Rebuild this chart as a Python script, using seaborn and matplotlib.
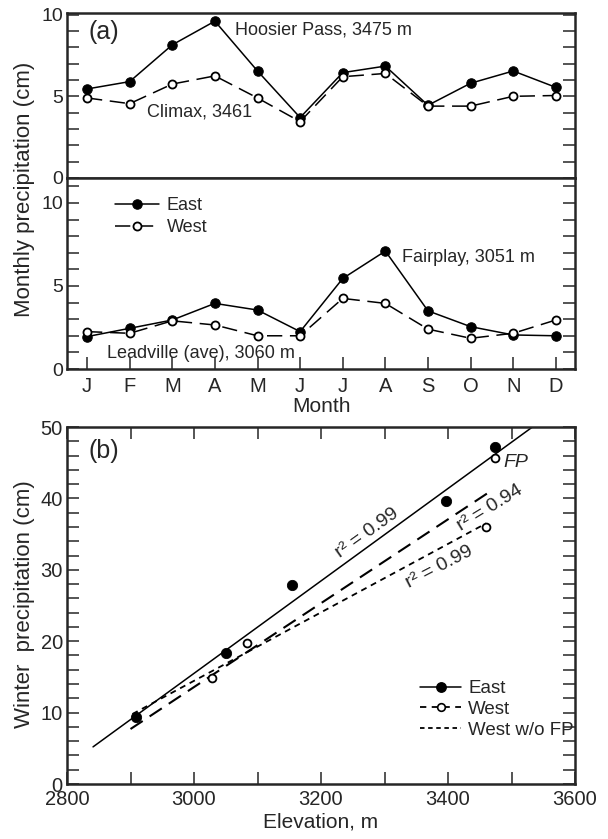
import numpy as np
import pandas as pd
import seaborn as sns
import matplotlib.pyplot as plt
from matplotlib.lines import Line2D
from matplotlib.ticker import MultipleLocator

months = ['J', 'F', 'M', 'A', 'M', 'J', 'J', 'A', 'S', 'O', 'N', 'D']
hoosier = [5.45, 5.9, 8.15, 9.6, 6.55, 3.7, 6.45, 6.85, 4.45, 5.8, 6.55, 5.55]
climax = [4.9, 4.55, 5.75, 6.25, 4.9, 3.45, 6.2, 6.4, 4.4, 4.4, 5.0, 5.05]
fairplay = [1.95, 2.45, 2.95, 3.95, 3.55, 2.25, 5.45, 7.1, 3.5, 2.55, 2.05, 2.0]
leadville = [2.25, 2.15, 2.9, 2.65, 2.0, 2.0, 4.25, 3.95, 2.4, 1.85, 2.15, 2.95]

east_elev = [2908, 3050, 3155, 3397, 3474]
east_winter = [9.4, 18.3, 27.9, 39.7, 47.2]
west_elev = [3028, 3084, 3460, 3474]
west_winter = [14.9, 19.8, 36.0, 45.7]

# fitted lines (endpoints)
east_fit_x = [2841, 3533]
east_fit_y = [5.2, 50.0]
west_fit_x = [2900, 3472]
west_fit_y = [7.7, 41.3]
west_nofp_fit_x = [2903, 3460]
west_nofp_fit_y = [9.8, 36.5]

sns.set_style('ticks')
plt.rcParams['font.family'] = ['Liberation Sans', 'DejaVu Sans']
plt.rcParams['axes.linewidth'] = 1.8

W, H = 608, 839
fig = plt.figure(figsize=(W / 100, H / 100), dpi=100)
L, R = 67, 575
ax1 = fig.add_axes([L / W, 1 - 178 / H, (R - L) / W, 165 / H])
ax2 = fig.add_axes([L / W, 1 - 369 / H, (R - L) / W, 191 / H])
ax3 = fig.add_axes([L / W, 1 - 784 / H, (R - L) / W, 357 / H])

mdf = pd.DataFrame({'m': np.arange(12), 'hoosier': hoosier, 'climax': climax,
                    'fairplay': fairplay, 'leadville': leadville})

def monthly(ax, east, west):
    sns.lineplot(data=mdf, x='m', y=east, ax=ax, color='black', lw=1.1,
                 marker='o', markersize=6.8, markerfacecolor='black',
                 markeredgecolor='black', label='East')
    sns.lineplot(data=mdf, x='m', y=west, ax=ax, color='black', lw=1.1,
                 marker='o', markersize=5.8, markerfacecolor='white',
                 markeredgecolor='black', markeredgewidth=1.3,
                 dashes=(10, 5), label='West')

monthly(ax1, 'hoosier', 'climax')
monthly(ax2, 'fairplay', 'leadville')

for ax, top in [(ax1, 10.1), (ax2, 11.5)]:
    ax.set_xlim(-0.47, 11.45)
    ax.set_ylim(0, top)
    ax.yaxis.set_major_locator(MultipleLocator(5))
    ax.yaxis.set_minor_locator(MultipleLocator(1))
    ax.tick_params(axis='y', which='both', direction='in', left=True, right=True,
                   length=8.5, width=1.1, labelsize=14, pad=3)
    ax.set_xlabel('')
    ax.set_ylabel('')

ax1.legend_.remove()
ax1.set_xticks([])
ax2.set_xticks(range(12))
ax2.set_xticklabels(months)
ax2.tick_params(axis='x', direction='in', length=8.5, width=1.1, labelsize=14.5, pad=6)
ax2.legend(loc='upper left', bbox_to_anchor=(115 / W, 1 - 197 / H),
           bbox_transform=fig.transFigure, frameon=False, fontsize=13,
           borderpad=0, borderaxespad=0, handlelength=2.45, handletextpad=0.4,
           labelspacing=0.3)

fig.text(88 / W, 1 - 32 / H, '(a)', fontsize=18, va='center')
ax1.text(3.47, 9.06, 'Hoosier Pass, 3475 m', fontsize=13, va='center')
ax1.text(1.41, 4.04, 'Climax, 3461', fontsize=13, va='center')
ax2.text(7.39, 6.69, 'Fairplay, 3051 m', fontsize=13, va='center')
ax2.text(0.47, 0.96, 'Leadville (ave), 3060 m', fontsize=13, va='center')
fig.text(25 / W, 1 - 189 / H, 'Monthly precipitation (cm)', rotation=90,
         fontsize=16, va='center', ha='center')
fig.text(321 / W, 1 - 406 / H, 'Month', fontsize=15, va='center', ha='center')

# panel b
sns.lineplot(x=east_fit_x, y=east_fit_y, ax=ax3, color='black', lw=1.1)
sns.lineplot(x=west_fit_x, y=west_fit_y, ax=ax3, color='black', lw=1.5,
             dashes=(7, 4))
sns.lineplot(x=west_nofp_fit_x, y=west_nofp_fit_y, ax=ax3, color='black', lw=1.3,
             dashes=(3.3, 2.7))
sns.scatterplot(x=east_elev, y=east_winter, ax=ax3, color='black', s=55,
                edgecolor='black', zorder=5)
sns.scatterplot(x=west_elev, y=west_winter, ax=ax3, color='white', s=32,
                edgecolor='black', linewidth=1.3, zorder=5)

ax3.set_xlim(2800, 3600)
ax3.set_ylim(0, 50)
ax3.xaxis.set_major_locator(MultipleLocator(200))
ax3.xaxis.set_minor_locator(MultipleLocator(100))
ax3.yaxis.set_major_locator(MultipleLocator(10))
ax3.yaxis.set_minor_locator(MultipleLocator(2))
ax3.tick_params(which='both', direction='in', left=True, right=True, top=True,
                bottom=True, length=8.5, width=1.1, labelsize=14.5, pad=3)
ax3.tick_params(axis='x', pad=4)

fig.text(88 / W, 1 - 451 / H, '(b)', fontsize=18, va='center')
fig.text(25 / W, 1 - 604 / H, 'Winter  precipitation (cm)', rotation=90,
         fontsize=16, va='center', ha='center')
fig.text(321 / W, 1 - 822 / H, 'Elevation, m', fontsize=15, va='center', ha='center')

ax3.text(3487, 45.0, 'FP', fontsize=14, style='italic', va='center')
ax3.text(3272, 35.2, 'r² = 0.99', fontsize=14, rotation=35.5, ha='center',
         va='center')
ax3.text(3466, 38.7, 'r² = 0.94', fontsize=14, rotation=31.5, ha='center',
         va='center')
ax3.text(3387, 30.4, 'r² = 0.99', fontsize=14, rotation=27.5, ha='center',
         va='center')

handles = [
    Line2D([], [], color='black', lw=1.1, marker='o', markersize=6.8),
    Line2D([], [], color='black', lw=1.3, dashes=(3.5, 3), marker='o', markersize=5.5,
           markerfacecolor='white', markeredgewidth=1.2),
    Line2D([], [], color='black', lw=1.3, dashes=(2.5, 2)),
]
ax3.legend(handles, ['East', 'West', 'West w/o FP'], loc='upper left',
           bbox_to_anchor=(420 / W, 1 - 680 / H), bbox_transform=fig.transFigure,
           frameon=False, fontsize=13.5, borderpad=0, borderaxespad=0,
           handlelength=2.2, handletextpad=0.37, labelspacing=0.2)

fig.savefig('out.png', dpi=100)
